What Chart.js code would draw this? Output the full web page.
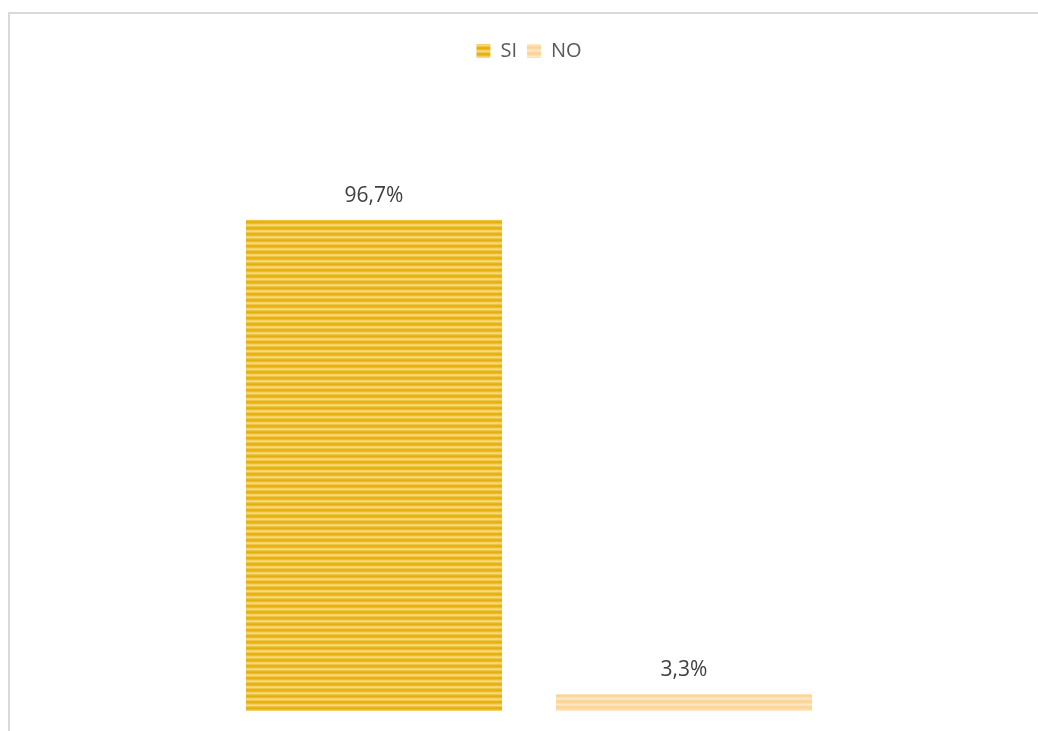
<!DOCTYPE html>
<html>
<head>
<meta charset="utf-8">
<script src="https://cdn.jsdelivr.net/npm/chart.js@4/dist/chart.umd.min.js"></script>
<style>
  html, body { margin: 0; padding: 0; background: #ffffff; overflow: hidden; }
  #wrap { position: relative; width: 1038px; height: 731px; }
  #frame { position: absolute; left: 8px; top: 12px; width: 1100px; height: 800px;
           border-top: 2px solid #d9d9d9; border-left: 2px solid #d9d9d9; box-sizing: border-box; }
  canvas { position: absolute; left: 0; top: 0; }
</style>
</head>
<body>
<div id="wrap">
  <div id="frame"></div>
  <canvas id="chart" width="1038" height="731"></canvas>
</div>
<script>
// Survey answers (percent of respondents)
const categories = [''];
const seriesNames = ['SI', 'NO'];
const siValues = [96.7];
const noValues = [3.3];

// Horizontal striped fills for the two answers
function stripes(rows) {
  const c = document.createElement('canvas');
  c.width = 1; c.height = rows.length;
  const g = c.getContext('2d');
  rows.forEach((col, i) => { g.fillStyle = col; g.fillRect(0, i, 1, 1); });
  return g.createPattern(c, 'repeat');
}
const ctx = document.getElementById('chart').getContext('2d');
const siFill = stripes(['#e5b00e', '#ebbc2c', '#f2cf68', '#f5da88', '#eec445', '#e6b416']);
const noFill = stripes(['#fcd69a', '#fde0b2', '#fee8c6', '#fde2b6', '#fcd8a0', '#fbd497']);

const fmt = v => v.toFixed(1).replace('.', ',') + '%';

// Value labels above each bar
const valueLabels = {
  id: 'valueLabels',
  afterDatasetsDraw(chart) {
    const g = chart.ctx;
    g.save();
    g.font = '21px "Open Sans"';
    g.fillStyle = '#404040';
    g.textAlign = 'center';
    g.textBaseline = 'middle';
    chart.data.datasets.forEach((ds, di) => {
      chart.getDatasetMeta(di).data.forEach((bar, i) => {
        g.fillText(fmt(ds.data[i]), bar.x, bar.y - 24);
      });
    });
    g.restore();
  }
};

new Chart(ctx, {
  type: 'bar',
  data: {
    labels: categories,
    datasets: [
      { label: seriesNames[0], data: siValues, backgroundColor: siFill, borderWidth: 0 },
      { label: seriesNames[1], data: noValues, backgroundColor: noFill, borderWidth: 0 }
    ]
  },
  options: {
    responsive: false,
    animation: false,
    events: [],
    layout: { padding: { top: 31, bottom: 20, left: 20, right: 0 } },
    categoryPercentage: 0.609,
    barPercentage: 0.826,
    plugins: {
      legend: {
        position: 'top',
        labels: {
          boxWidth: 14, boxHeight: 14, padding: 10,
          color: '#595959',
          font: { family: 'Open Sans', size: 20 }
        }
      },
      tooltip: { enabled: false },
      title: { display: false }
    },
    scales: {
      x: { display: false, grid: { display: false } },
      y: { display: false, min: 0, max: 126, grid: { display: false } }
    }
  },
  plugins: [valueLabels]
});
</script>
</body>
</html>
